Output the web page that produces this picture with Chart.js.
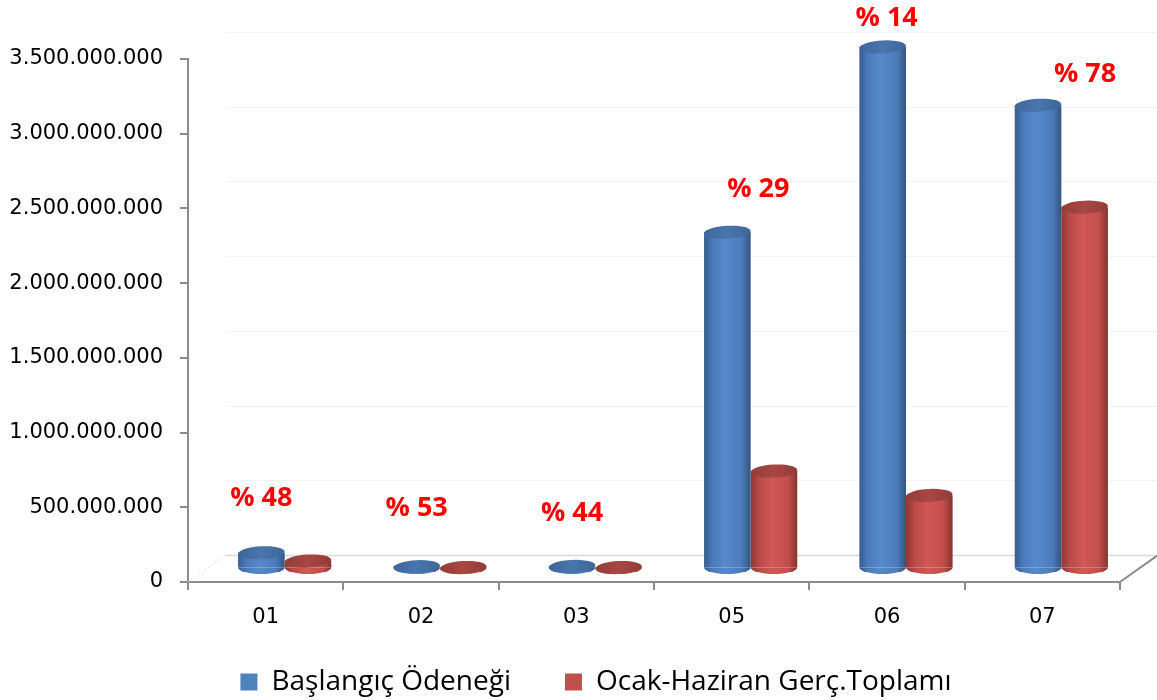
<!DOCTYPE html>
<html><head><meta charset="utf-8">
<script src="https://cdn.jsdelivr.net/npm/chart.js@4.4.0/dist/chart.umd.min.js"></script>
<style>html,body{margin:0;padding:0;background:#fff}#wrap{width:1157px;height:700px;position:relative}</style>
</head><body><div id="wrap"><canvas id="c"></canvas></div>
<script>
const categories = ['01', '02', '03', '05', '06', '07'];
const baslangicOdenegi = [105e6, 12e6, 14e6, 2250e6, 3490e6, 3100e6];
const ocakHaziranGerc = [50e6, 6.4e6, 6.2e6, 652e6, 489e6, 2418e6];
const percentLabels = ['% 48', '% 53', '% 44', '% 29', '% 14', '% 78'];
const seriesNames = ['Başlangıç Ödeneği', 'Ocak-Haziran Gerç.Toplamı'];
const yMax = 3500e6;
const yStep = 500e6;

const DEPTH_X = 38, DEPTH_Y = -27;
const BAR_SHIFT_X = 19, BAR_SHIFT_Y = -13.5;

const palettes = [
  {legend: '#4f81bd', stops: ['#375c8f', '#4a7aba', '#5689cc', '#4c7bbb', '#34557f'], cap: '#3e6699', capLight: '#4a76ad'},
  {legend: '#c0504d', stops: ['#8f3835', '#b94a47', '#d05856', '#c24f4c', '#87332f'], cap: '#923c39', capLight: '#a94744'}
];

function fmt(v) { return String(Math.round(v)).replace(/\B(?=(\d{3})+(?!\d))/g, '.'); }

function bodyGradient(ctx, x, w, pal) {
  const g = ctx.createLinearGradient(x - w / 2, 0, x + w / 2, 0);
  const s = pal.stops;
  g.addColorStop(0, s[0]); g.addColorStop(0.18, s[1]); g.addColorStop(0.45, s[2]);
  g.addColorStop(0.8, s[3]); g.addColorStop(1, s[4]);
  return g;
}

const floorPlugin = {
  id: 'floor3d',
  afterLayout(chart) {
    // let tick labels spill outside their (narrowed) scale boxes
    chart.scales.y.left = 0;
    chart.scales.x.bottom = chart.height;
    if (chart.legend) { chart.legend.top += 6; chart.legend.bottom += 6; }
  },
  beforeDatasetsDraw(chart) {
    const {ctx, chartArea: a, scales: {y}} = chart;
    ctx.save();
    ctx.lineWidth = 1;
    ctx.strokeStyle = '#f3f3f3';
    for (let v = yStep; v <= yMax; v += yStep) {
      const py = Math.round(y.getPixelForValue(v) + DEPTH_Y) + 0.5;
      ctx.beginPath(); ctx.moveTo(a.left + DEPTH_X, py); ctx.lineTo(a.right + DEPTH_X, py); ctx.stroke();
    }
    const fy = Math.round(y.getPixelForValue(0) + DEPTH_Y) + 0.5;
    ctx.strokeStyle = '#d9d9d9';
    ctx.lineWidth = 1.5;
    ctx.beginPath(); ctx.moveTo(a.left + DEPTH_X, fy); ctx.lineTo(a.right + DEPTH_X, fy); ctx.stroke();
    ctx.strokeStyle = '#e2e2e2';
    ctx.lineWidth = 1;
    ctx.setLineDash([2, 2]);
    ctx.beginPath(); ctx.moveTo(a.left, a.bottom); ctx.lineTo(a.left + DEPTH_X, a.bottom + DEPTH_Y); ctx.stroke();
    ctx.setLineDash([]);
    ctx.strokeStyle = '#8c8c8c';
    ctx.lineWidth = 2;
    ctx.beginPath(); ctx.moveTo(a.right, a.bottom); ctx.lineTo(a.right + DEPTH_X, a.bottom + DEPTH_Y); ctx.stroke();
    ctx.restore();

    chart.data.datasets.forEach((ds, di) => {
      const meta = chart.getDatasetMeta(di);
      meta.data.forEach(el => {
        el.options = Object.assign({}, el.options, {backgroundColor: bodyGradient(ctx, el.x, el.width, palettes[di])});
      });
    });
    ctx.save();
    ctx.translate(BAR_SHIFT_X, BAR_SHIFT_Y);
  },
  afterDatasetsDraw(chart, args, opts) {
    const {ctx} = chart;
    chart.data.datasets.forEach((ds, di) => {
      const meta = chart.getDatasetMeta(di);
      const pal = palettes[di];
      meta.data.forEach(el => {
        const rx = el.width / 2, ry = el.width * 0.14;
        ctx.save();
        ctx.fillStyle = bodyGradient(ctx, el.x, el.width, pal);
        ctx.beginPath();
        ctx.ellipse(el.x, el.base, rx, ry, 0, 0, Math.PI);
        ctx.fill();
        const cg = ctx.createLinearGradient(el.x - rx, 0, el.x + rx, 0);
        cg.addColorStop(0, pal.cap); cg.addColorStop(0.5, pal.capLight); cg.addColorStop(1, pal.cap);
        ctx.fillStyle = cg;
        ctx.beginPath();
        ctx.ellipse(el.x, el.y, rx, ry, -0.05, 0, Math.PI * 2);
        ctx.fill();
        ctx.restore();
      });
    });
    const meta0 = chart.getDatasetMeta(0);
    ctx.save();
    ctx.fillStyle = '#ff0000';
    ctx.font = 'bold 27px "Open Sans"';
    ctx.textAlign = 'center';
    ctx.textBaseline = 'middle';
    meta0.data.forEach((el, i) => {
      const n = opts.nudge[i];
      ctx.fillText(percentLabels[i], el.x + n[0], el.y + n[1]);
    });
    ctx.restore();
    ctx.restore();
  }
};

new Chart(document.getElementById('c'), {
  type: 'bar',
  data: {
    labels: categories,
    datasets: [
      {label: seriesNames[0], data: baslangicOdenegi, backgroundColor: palettes[0].legend, borderWidth: 0, clip: false},
      {label: seriesNames[1], data: ocakHaziranGerc, backgroundColor: palettes[1].legend, borderWidth: 0, clip: false}
    ]
  },
  plugins: [floorPlugin],
  options: {
    responsive: true,
    maintainAspectRatio: false,
    animation: false,
    events: [],
    layout: {padding: {left: 72, right: 37, top: 59, bottom: 0}},
    categoryPercentage: 0.6,
    barPercentage: 1.0,
    scales: {
      x: {
        afterFit: s => { s.height = 26; },
        grid: {display: true, drawOnChartArea: false, color: '#8c8c8c', tickLength: 8, lineWidth: 2},
        border: {display: true, color: '#8c8c8c', width: 2},
        ticks: {color: '#000', font: {family: 'DejaVu Sans', size: 21}, padding: 15}
      },
      y: {
        min: 0, max: yMax,
        afterFit: s => { s.width = 116; },
        grid: {display: true, drawOnChartArea: false, color: '#8c8c8c', tickLength: 8, lineWidth: 2},
        border: {display: true, color: '#8c8c8c', width: 2},
        ticks: {stepSize: yStep, color: '#000', font: {family: 'DejaVu Sans', size: 21}, padding: 17, callback: v => fmt(v)}
      }
    },
    plugins: {
      tooltip: {enabled: false},
      floor3d: {nudge: [[0, -54], [0, -58], [0, -53], [31, -43], [4, -29], [47, -31]]},
      legend: {
        position: 'bottom',
        labels: {boxWidth: 17, boxHeight: 17, padding: 54, color: '#000', font: {family: 'Open Sans', size: 28}}
      }
    }
  }
});
</script></body></html>
